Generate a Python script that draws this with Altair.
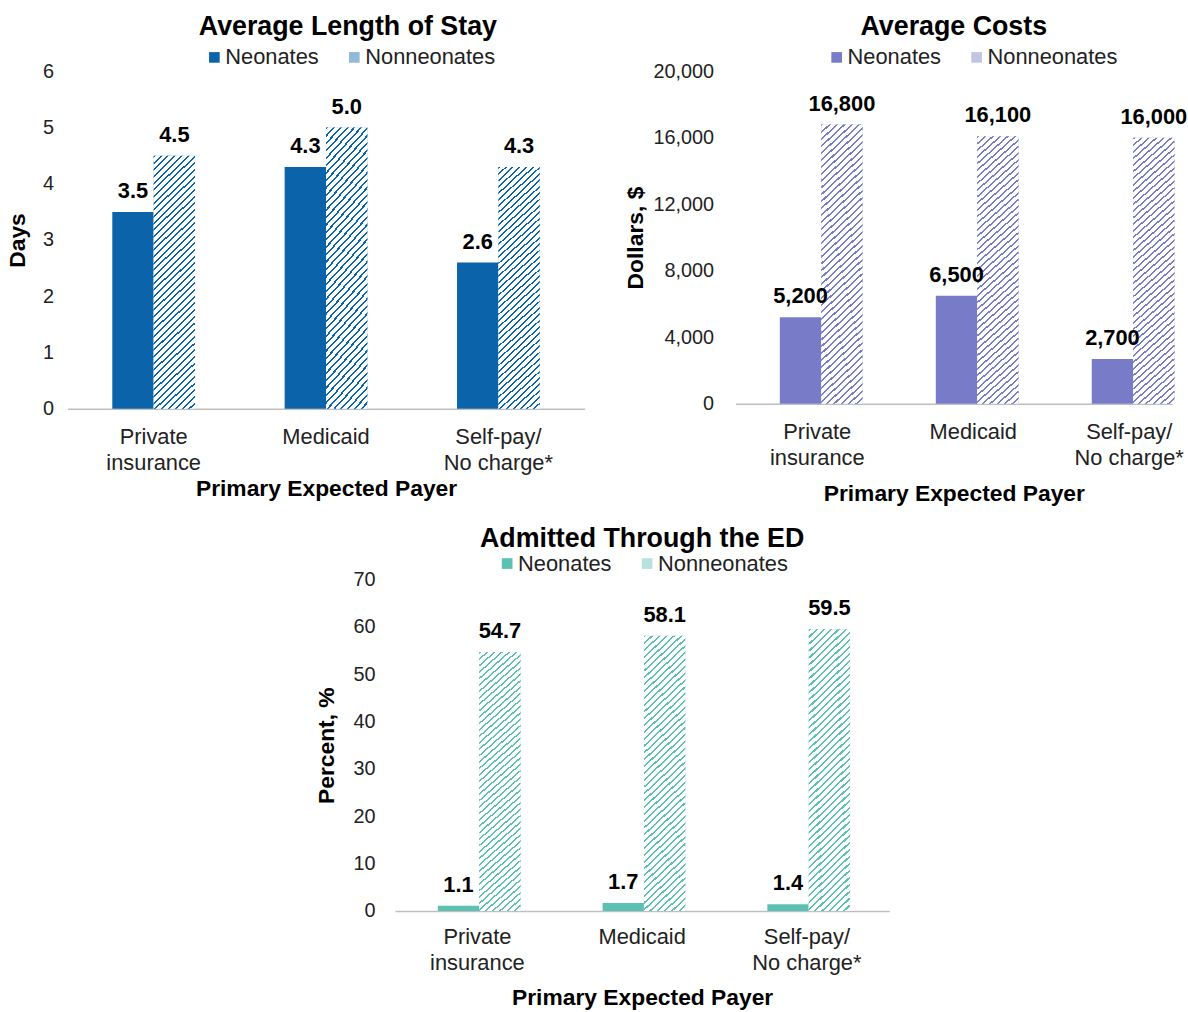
import altair as alt
import pandas as pd

payers = ["Private insurance", "Medicaid", "Self-pay/No charge*"]
series = ["Neonates", "Nonneonates"]

los_neo = [3.5, 4.3, 2.6]
los_non = [4.5, 5.0, 4.3]
cost_neo = [5200, 6500, 2700]
cost_non = [16800, 16100, 16000]
ed_neo = [1.1, 1.7, 1.4]
ed_non = [54.7, 58.1, 59.5]

los_ticks = [0, 1, 2, 3, 4, 5, 6]
cost_ticks = [0, 4000, 8000, 12000, 16000, 20000]
ed_ticks = [0, 10, 20, 30, 40, 50, 60, 70]

FONT = "Liberation Sans"
LABEL_EXPR = ("datum.value == 'Private insurance' ? ['Private', 'insurance'] : "
              "datum.value == 'Self-pay/No charge*' ? ['Self-pay/', 'No charge*'] : datum.value")


def frame(neo, non):
    rows = []
    for p, a, b in zip(payers, neo, non):
        rows.append({"payer": p, "series": "Neonates", "value": a})
        rows.append({"payer": p, "series": "Nonneonates", "value": b})
    return pd.DataFrame(rows)


def hatch(color, n, ratio, frac=0.3):
    s = (ratio + 1) / (ratio ** 2 + 1)
    stops = []
    for i in range(n):
        o0 = round(i / n, 5)
        o1 = round((i + frac) / n, 5)
        o2 = round((i + 1) / n, 5)
        stops += [
            alt.GradientStop(offset=o0, color=color),
            alt.GradientStop(offset=o1, color=color),
            alt.GradientStop(offset=o1, color="white"),
            alt.GradientStop(offset=o2, color="white"),
        ]
    return alt.LinearGradient(gradient="linear", stops=stops,
                              x1=0, y1=0, x2=round(ratio * s, 4), y2=round(s, 4))


def panel(title, neo, non, color, pale, ytitle, yticks, yfmt, lblfmt,
          width, height, xscale, hatch_n, ratio, lx, ly, title_dx, title_off,
          y_lpad, y_tpad, x_lpad, x_tpad):
    df = frame(neo, non)
    base = alt.Chart(df).encode(
        x=alt.X("payer:N", sort=payers, scale=xscale,
                axis=alt.Axis(title="Primary Expected Payer", labelExpr=LABEL_EXPR,
                              labelAngle=0, labelFontSize=22, labelLineHeight=26,
                              labelPadding=x_lpad, labelColor="#222222", labelFont=FONT,
                              titleFont=FONT, titleFontSize=23, titleFontWeight="bold",
                              titleColor="black", titlePadding=x_tpad,
                              domain=True, domainColor="#BFBFBF", domainWidth=1.5,
                              ticks=False, grid=False)),
        xOffset=alt.XOffset("series:N", sort=series,
                            scale=alt.Scale(domain=series, paddingInner=0, paddingOuter=0)),
        y=alt.Y("value:Q", scale=alt.Scale(domain=[yticks[0], yticks[-1]], nice=False),
                axis=alt.Axis(title=ytitle, values=yticks, format=yfmt,
                              labelFontSize=20, labelColor="#222222", labelFont=FONT,
                              labelPadding=y_lpad, titleFont=FONT, titleFontSize=23,
                              titleFontWeight="bold", titleColor="black",
                              titlePadding=y_tpad, domain=False, ticks=False, grid=False)),
    )
    bars = base.mark_bar().encode(
        color=alt.Color("series:N", sort=series,
                        scale=alt.Scale(domain=series, range=[color, pale]),
                        legend=alt.Legend(title=None, orient="none", legendX=lx, legendY=ly,
                                          direction="horizontal", symbolType="square",
                                          symbolSize=115, symbolStrokeWidth=0,
                                          labelFontSize=22, labelFont=FONT,
                                          labelColor="#222222", labelOffset=0,
                                          columnPadding=24))
    )
    hat = base.transform_filter(alt.datum.series == "Nonneonates").mark_bar(
        fill=hatch(color, hatch_n, ratio))
    text = base.mark_text(baseline="bottom", dy=-9, fontSize=22, fontWeight="bold",
                          font=FONT, color="black").encode(
        text=alt.Text("value:Q", format=lblfmt))
    return alt.layer(bars, hat, text).properties(
        width=width, height=height,
        title=alt.TitleParams(title, fontSize=27, font=FONT, fontWeight="bold",
                              color="black", anchor="middle", frame="group",
                              dx=title_dx, offset=title_off))


p1 = panel("Average Length of Stay", los_neo, los_non, "#0B64A9", "#91B9D8", "Days",
           los_ticks, "d", ".1f", 521, 340,
           alt.Scale(paddingInner=0.52, paddingOuter=0.26), 44, 0.16,
           137, -25, 22, 6, 14, 13, 18, 4)
p2 = panel("Average Costs", cost_neo, cost_non, "#787CC8", "#C2C4E6", "Dollars, $",
           cost_ticks, ",.0f", ",.0f", 440, 335,
           alt.Scale(paddingInner=0.52, paddingOuter=0.16, align=0.89), 46, 0.138,
           91, -25, 0, 6, 22, 5, 18, 14)
p3 = panel("Admitted Through the ED", ed_neo, ed_non, "#5CC0B2", "#B5E2DC", "Percent, %",
           ed_ticks, "d", ".1f", 498, 334,
           alt.Scale(paddingInner=0.52, paddingOuter=0.26), 46, 0.141,
           102, -27, 0, 0, 20, 15, 16, 13)

spacer = alt.Chart(pd.DataFrame({"v": [0]})).mark_point(opacity=0).encode(
    x=alt.value(0), y=alt.value(0)).properties(width=249, height=1)

top = alt.hconcat(p1, p2, spacing=40).resolve_scale(color="independent")
bottom = alt.hconcat(spacer, p3, spacing=0).resolve_scale(color="independent")
chart = alt.vconcat(top, bottom, spacing=20).resolve_scale(
    color="independent"
).properties(
    padding={"left": 6, "top": 9, "right": 0, "bottom": 0}
).configure(background="white").configure_view(strokeWidth=0, stroke=None)

chart.save("out.html", embed_options={"renderer": "svg", "actions": False})
